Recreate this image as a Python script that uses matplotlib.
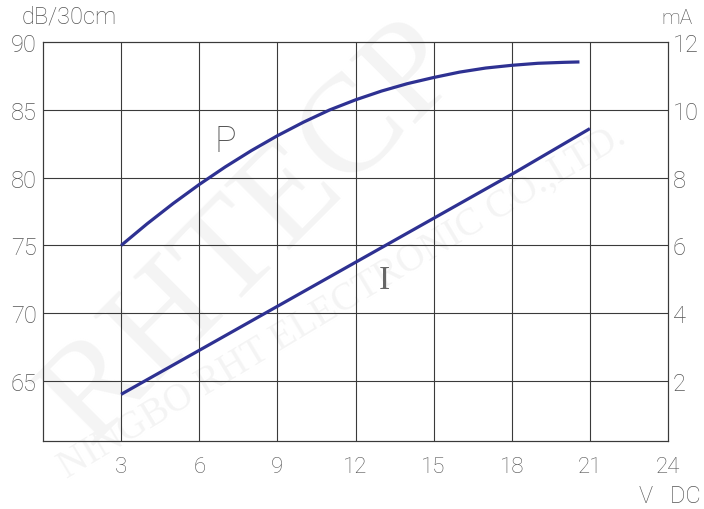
import matplotlib
matplotlib.use("Agg")
import matplotlib.pyplot as plt

# Data
p_volts = [3, 4, 5, 6, 7, 8, 9, 10, 11, 12, 13, 14, 15, 16, 17, 18, 19, 20, 20.6]
p_db = [75.0, 76.6, 78.1, 79.5, 80.8, 82.0, 83.1, 84.1, 85.0, 85.75, 86.4, 86.95, 87.4, 87.8, 88.1, 88.3, 88.45, 88.52, 88.55]
i_volts = [3, 6, 9, 12, 15, 18, 21]
i_ma = [1.6, 2.9, 4.2, 5.5, 6.8, 8.1, 9.45]
x_ticks = [3, 6, 9, 12, 15, 18, 21, 24]
left_ticks = [65, 70, 75, 80, 85, 90]
right_ticks = [2, 4, 6, 8, 10, 12]

line_color = "#2e3192"
grid_color = "#3a3a3a"
text_color = "#555555"
font = dict(family=["Roboto", "DejaVu Sans"], weight="light")

fig = plt.figure(figsize=(7.04, 5.10), dpi=100)
ax = fig.add_axes([43/704, (510-441.7)/510, (668-43)/704, (441.7-43.3)/510])
ax2 = ax.twinx()

ax.set_xlim(0, 24)
ax.set_ylim(60.58, 90)
ax2.set_ylim(0.23, 12)

for v in x_ticks[:-1]:
    ax.axvline(v, color=grid_color, lw=0.8, zorder=1)
for v in left_ticks[:-1]:
    ax.axhline(v, color=grid_color, lw=0.8, zorder=1)
for a in (ax, ax2):
    for s in a.spines.values():
        s.set_color(grid_color)
        s.set_linewidth(0.8)

# faint watermark, drawn beneath everything
ax.text(0.36, 0.54, "RHTECP", fontsize=100, family="Liberation Serif", color="#f4f4f4",
        rotation=45, ha="center", va="center", zorder=0, transform=fig.transFigure, clip_on=False)
ax.text(0.486, 0.408, "NINGBO RHT ELECTRONIC CO.,LTD.", fontsize=28, family="Liberation Serif",
        color="#f4f4f4", rotation=31, ha="center", va="center", zorder=0,
        transform=fig.transFigure, clip_on=False)
ax2.patch.set_alpha(0)

ax.plot(p_volts, p_db, color=line_color, lw=2.3, zorder=3, solid_capstyle="butt")
ax2.plot(i_volts, i_ma, color=line_color, lw=2.3, zorder=3, solid_capstyle="butt")

ax.text(7.0, 82.7, "P", fontsize=26, color=text_color, ha="center", va="center", zorder=4, **font)
ax.text(13.1, 72.5, "I", fontsize=24, color="#666666", ha="center", va="center",
        family="Liberation Serif", zorder=4)

ax.set_xticks(x_ticks)
ax.set_yticks(left_ticks)
ax2.set_yticks(right_ticks)
ax.tick_params(axis="x", length=0, pad=11, labelcolor=text_color)
ax.tick_params(axis="y", length=0, pad=4.5, labelcolor=text_color)
ax2.tick_params(axis="y", length=0, pad=3.5, labelcolor=text_color)
for lab in ax.get_yticklabels() + ax2.get_yticklabels():
    lab.set_fontfamily(font["family"])
    lab.set_fontweight("light")
    lab.set_fontsize(17)
for lab in ax.get_xticklabels():
    lab.set_fontfamily(font["family"])
    lab.set_fontweight("light")
    lab.set_fontsize(16)

fig.text(22/704, 1-17/510, "dB/30cm", fontsize=17, color=text_color, ha="left", va="center", **font)
fig.text(693/704, 1-19/510, "mA", fontsize=15, color=text_color, ha="right", va="center", **font)
fig.text(701/704, 1-497/510, "V   DC", fontsize=17, color=text_color, ha="right", va="center", **font)

fig.savefig("out.png", dpi=100)
